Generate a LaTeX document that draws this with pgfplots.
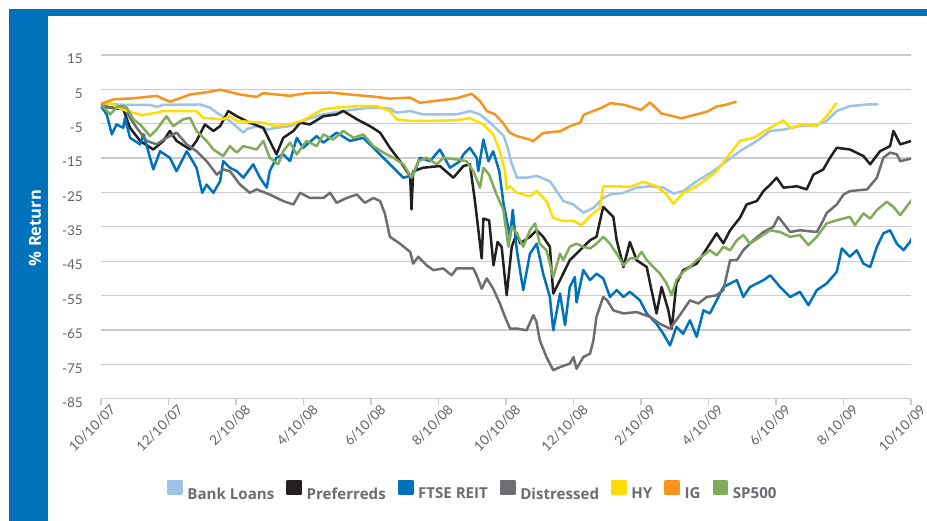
\documentclass[border=0pt]{standalone}
\usepackage{fontspec}
\setmainfont{Lato}
\newfontfamily\legfont{Open Sans}
\usepackage{pgfplots}
\pgfplotsset{compat=1.18}
\definecolor{frameblue}{RGB}{0,114,188}
\definecolor{cbank}{RGB}{157,195,230}
\definecolor{cpref}{RGB}{35,31,32}
\definecolor{creit}{RGB}{0,114,188}
\definecolor{cdist}{RGB}{109,110,113}
\definecolor{chy}{RGB}{255,221,0}
\definecolor{cig}{RGB}{247,148,29}
\definecolor{csp}{RGB}{130,171,90}
\definecolor{gridc}{RGB}{204,204,204}
\definecolor{tickc}{RGB}{100,100,100}
\definecolor{legc}{RGB}{109,110,113}
\begin{document}
\begin{tikzpicture}[x=1pt,y=1pt]
\useasboundingbox (0,0) rectangle (927,521);
\fill[white] (0,0) rectangle (927,521);
\fill[frameblue] (9,0) rectangle (48,512);
\fill[frameblue] (9,505) rectangle (927,512);
\node[rotate=90, text=white, font=\legfont\bfseries\fontsize{16.5}{20}\selectfont] at (35,293) {\% Return};
\begin{axis}[
  at={(101pt,122.3pt)}, anchor=south west,
  scale only axis, width=810pt, height=343.7pt,
  xmin=0, xmax=24, ymin=-85, ymax=15,
  xtick={0,2,...,24},
  xticklabels={10/10/07,12/10/07,2/10/08,4/10/08,6/10/08,8/10/08,10/10/08,12/10/08,2/10/09,4/10/09,6/10/09,8/10/09,10/10/09},
  ytick={-85,-75,...,15},
  ymajorgrids, grid style={gridc, line width=1.3pt},
  separate axis lines,
  axis x line*=bottom, axis y line*=left,
  y axis line style={draw=none},
  x axis line style={gridc, line width=1.3pt},
  xtick style={gridc, line width=1.3pt},
  ytick style={draw=none},
  major tick length=6pt, tick align=outside,
  /pgf/number format/assume math mode=true,
  ticklabel style={font=\fontsize{13.5}{16}\selectfont, text=tickc},
  yticklabel style={inner sep=0pt, anchor=east, xshift=-12pt, yshift=-4pt},
  xticklabel style={rotate=45, anchor=north east, inner sep=0pt, xshift=7pt, yshift=-5pt},
  no markers,
  every axis plot/.append style={line width=2.5pt, line join=round},
  legend columns=-1,
  legend image code/.code={\fill[#1] (0pt,0pt) rectangle (13.3pt,13.3pt);},
  legend style={at={(0.0777,-0.266)}, anchor=west, draw=none, fill=none,
    font=\legfont\bfseries\fontsize{15.1}{19}\selectfont, text=legc,
    nodes={inner sep=0pt},
    /tikz/every even column/.append style={column sep=12pt},
    /tikz/every odd column/.append style={column sep=4.5pt}},
]
\addplot[color=cbank] coordinates {(0,0.9) (0.66,0.5) (1.45,0.5) (1.65,-0.1) (1.85,0.5) (2.93,0.6) (3.23,-0.3) (3.43,-1.8) (3.82,-4.2) (4.22,-7.6) (4.32,-6.6) (4.61,-5.7) (4.91,-6.7) (5.2,-6.2) (5.6,-5.7) (6.09,-3.7) (6.59,-2.3) (7.18,-1.3) (7.97,-0.3) (8.56,-0.6) (8.76,-1.8) (9.16,-1.3) (9.55,-2.3) (10.54,-2.3) (10.93,-1.3) (11.23,-2.3) (11.53,-4.7) (11.93,-8.5) (12.05,-12) (12.15,-16) (12.32,-20.7) (12.6,-20.7) (12.91,-20.2) (13.3,-21.7) (13.5,-24.6) (13.7,-27.5) (14.0,-28.5) (14.29,-30.9) (14.59,-29.5) (14.88,-26.6) (15.08,-25.6) (15.48,-25.1) (15.87,-23.6) (16.27,-23.2) (16.66,-23.6) (16.96,-25.3) (17.25,-24.6) (17.65,-21.7) (18.14,-18.8) (18.6,-15.4) (18.93,-13) (19.43,-10) (19.83,-7.1) (20.22,-6.7) (20.71,-5.7) (21.21,-5.4) (21.5,-4.2) (21.8,-1.3) (22.19,0.1) (22.7,0.6) (23.03,0.6)};
\addlegendentry{Bank Loans}
\addplot[color=cpref] coordinates {(0,0.1) (0.27,-0.3) (0.66,-0.8) (0.86,-6.2) (1.16,-10) (1.55,-12.5) (1.85,-10) (2.04,-7.1) (2.24,-10) (2.64,-12.5) (2.83,-10) (3.08,-5.2) (3.33,-7.1) (3.53,-5.7) (3.77,-1.3) (4.02,-2.8) (4.41,-4.7) (4.81,-6.2) (5.0,-10) (5.2,-13.9) (5.4,-9.1) (5.7,-7.1) (5.9,-4.7) (6.19,-5.2) (6.59,-2.8) (6.98,-2.3) (7.18,-1.3) (7.58,-3.7) (7.97,-5.7) (8.27,-7.6) (8.56,-12) (8.86,-15.9) (9.16,-20.2) (9.2,-29.9) (9.25,-18.8) (9.55,-17.8) (10.04,-17.3) (10.44,-20.7) (10.74,-17.3) (10.93,-16.8) (11.08,-27.5) (11.28,-44.2) (11.33,-32.6) (11.5,-33.1) (11.63,-46.2) (11.75,-39.4) (11.87,-40.8) (12.02,-54.9) (12.17,-40.8) (12.32,-36.9) (12.42,-39.8) (12.71,-37.9) (12.91,-36) (13.1,-37.9) (13.3,-40.8) (13.4,-54.4) (13.6,-50.5) (13.89,-44.7) (14.19,-41.8) (14.49,-38.9) (14.68,-37.9) (14.88,-29.2) (15.18,-32.1) (15.28,-38.9) (15.48,-46.7) (15.67,-39.4) (15.87,-44.7) (16.17,-46.7) (16.27,-51.5) (16.46,-60.2) (16.61,-52.5) (16.81,-59.3) (16.91,-64.6) (17.05,-51.5) (17.25,-47.6) (17.65,-45.7) (17.85,-42.8) (18.24,-36.9) (18.44,-39.8) (18.64,-36) (18.93,-32.4) (19.13,-28.5) (19.43,-27.5) (19.63,-24.6) (19.83,-22.7) (20.02,-20.7) (20.22,-23.6) (20.62,-23.2) (20.91,-24.1) (21.11,-19.8) (21.4,-18.3) (21.6,-14.9) (21.8,-12) (22.19,-12.5) (22.59,-14.4) (22.79,-16.8) (23.08,-13) (23.38,-11.5) (23.48,-7.1) (23.68,-11) (24.02,-10)};
\addlegendentry{Preferreds}
\addplot[color=creit] coordinates {(0,0.1) (0.17,-2.3) (0.32,-8.1) (0.46,-5.2) (0.66,-6.2) (0.71,-3.3) (0.86,-9.1) (1.16,-11) (1.26,-8.1) (1.55,-18.3) (1.75,-13) (2.04,-14.9) (2.24,-18.8) (2.54,-13) (2.83,-17.8) (3.0,-25.1) (3.13,-22.7) (3.33,-25.1) (3.53,-21.7) (3.62,-15.9) (3.82,-17.8) (4.02,-18.8) (4.22,-20.7) (4.51,-16.8) (4.71,-20.7) (4.91,-23.6) (5.0,-18.8) (5.2,-14.9) (5.4,-13.9) (5.6,-15.9) (5.8,-9.1) (5.99,-12) (6.39,-8.6) (6.59,-10.5) (6.98,-7.6) (7.38,-10) (7.77,-9.1) (8.07,-12) (8.37,-14.9) (8.66,-17.8) (8.96,-20.7) (9.16,-20.2) (9.3,-18.8) (9.45,-14.9) (9.75,-15.9) (10.04,-12.5) (10.34,-17.8) (10.64,-15.9) (10.74,-13.9) (10.93,-12) (11.13,-14.9) (11.18,-18.8) (11.33,-9.6) (11.48,-15.9) (11.62,-13) (11.8,-18.8) (11.93,-28.5) (12.12,-37.9) (12.2,-30.1) (12.32,-41.8) (12.51,-53.4) (12.71,-42.8) (12.91,-39.9) (13.1,-48.6) (13.3,-55.4) (13.4,-65.1) (13.6,-54.4) (13.75,-63.6) (13.89,-52.5) (14.04,-49.6) (14.09,-57) (14.29,-47.6) (14.49,-50.5) (14.68,-48.6) (14.88,-50) (15.08,-55.4) (15.28,-53.4) (15.48,-55.4) (15.67,-53.9) (15.97,-56.4) (16.17,-60.2) (16.46,-63.2) (16.66,-66.1) (16.86,-69.5) (17.05,-64.1) (17.25,-66.1) (17.45,-62.2) (17.65,-67) (17.85,-59.3) (18.04,-60.2) (18.24,-56.4) (18.44,-52.5) (18.64,-51.5) (18.84,-50.5) (19.03,-55.4) (19.23,-52.5) (19.63,-50.5) (19.83,-49.1) (20.12,-52.5) (20.42,-55.4) (20.71,-53.9) (20.96,-57.8) (21.21,-53.4) (21.5,-51.5) (21.8,-48.1) (21.95,-41.3) (22.19,-43.7) (22.39,-41.8) (22.59,-45.7) (22.79,-46.7) (22.99,-40.8) (23.18,-36.9) (23.38,-36) (23.58,-39.9) (23.78,-41.8) (23.97,-39.4) (24.02,-38.4)};
\addlegendentry{FTSE REIT}
\addplot[color=cdist] coordinates {(0,0.6) (0.27,-0.3) (0.66,0.1) (0.86,-3.3) (1.06,-6.2) (1.35,-10) (1.65,-11) (1.94,-9.1) (2.24,-7.6) (2.54,-11) (2.83,-13) (3.13,-15.9) (3.43,-19.8) (3.62,-18.3) (3.82,-18.8) (4.12,-22.7) (4.41,-25.1) (4.61,-24.1) (5.0,-25.6) (5.4,-27.5) (5.7,-28.5) (5.9,-25.1) (6.19,-26.6) (6.59,-26.6) (6.79,-25.1) (6.98,-28) (7.28,-26.6) (7.58,-25.6) (7.82,-28) (8.07,-26.6) (8.27,-27.5) (8.41,-31.1) (8.56,-37.9) (8.86,-39.9) (9.16,-42.3) (9.25,-45.7) (9.4,-43.7) (9.65,-46.2) (9.85,-47.6) (10.14,-47.1) (10.39,-49.1) (10.54,-47.1) (11.03,-47.1) (11.13,-49.1) (11.28,-53) (11.43,-50) (11.62,-53) (11.82,-57.3) (11.97,-61.2) (12.12,-64.6) (12.32,-64.6) (12.61,-65.1) (12.81,-60.7) (12.9,-62.5) (13.0,-68) (13.2,-72.9) (13.4,-76.7) (13.6,-75.8) (13.89,-74.8) (14.0,-72.9) (14.09,-76.3) (14.29,-72.9) (14.49,-71.9) (14.59,-68) (14.68,-61.2) (14.88,-55.4) (15.0,-56.4) (15.18,-59.3) (15.48,-60.2) (15.87,-59.8) (16.27,-61.2) (16.56,-63.2) (16.86,-64.6) (17.15,-60.7) (17.45,-56.4) (17.7,-57.3) (17.95,-55.4) (18.24,-54.9) (18.44,-53.4) (18.64,-44.7) (18.84,-44.7) (19.03,-41.8) (19.33,-38.9) (19.63,-36.5) (19.92,-35) (20.07,-32.1) (20.22,-34) (20.42,-36.5) (20.71,-36) (21.21,-36.5) (21.4,-33.1) (21.5,-31) (21.8,-28.5) (22.0,-25.6) (22.19,-24.6) (22.7,-24.1) (22.99,-20.7) (23.18,-14.9) (23.38,-13.4) (23.58,-13.9) (23.68,-15.9) (24.02,-15.1)};
\addlegendentry{Distressed}
\addplot[color=chy] coordinates {(0,0.9) (0.3,0.9) (0.5,-0.4) (0.86,-1.5) (1.2,-2.5) (1.65,-1.8) (1.85,-1.3) (2.83,-1.3) (3.03,-3.3) (3.62,-3.7) (3.82,-2.8) (4.02,-4.2) (4.81,-4.7) (5.2,-5.7) (5.6,-5.2) (5.99,-4) (6.39,-1.8) (6.59,-0.8) (6.98,-0.3) (7.58,0.1) (8.17,0.1) (8.56,-1.3) (8.76,-3.7) (9.16,-4.2) (9.55,-4.2) (10.54,-4) (10.93,-3.4) (11.33,-5.2) (11.62,-8.1) (11.82,-13) (11.97,-18.8) (12.02,-24.1) (12.12,-23.2) (12.32,-25.1) (12.71,-26.1) (12.91,-24.6) (13.2,-27.5) (13.4,-32.4) (13.7,-33.3) (14.0,-33.3) (14.24,-34.5) (14.49,-31.9) (14.78,-29.5) (14.88,-23.2) (15.28,-23.2) (15.67,-23.4) (16.07,-21.9) (16.46,-23.2) (16.76,-25.6) (16.96,-28.3) (17.25,-25.1) (17.65,-23.2) (18.24,-18.8) (18.54,-14.9) (18.93,-10) (19.33,-9.1) (19.83,-6.2) (20.22,-4) (20.42,-6.2) (20.81,-5.2) (21.21,-5.7) (21.5,-2.8) (21.8,1.1)};
\addlegendentry{HY}
\addplot[color=cig] coordinates {(0,0.8) (0.37,2.1) (0.96,2.4) (1.65,3.1) (2.04,1.4) (2.64,3.5) (3.23,4.3) (3.53,4.9) (4.12,3.5) (4.61,2.8) (4.81,3.9) (5.6,3.1) (6.09,3.9) (6.79,4.1) (7.58,3.3) (8.07,2.9) (8.56,2.3) (9.16,2.6) (9.45,1.1) (10.04,1.8) (10.54,2.4) (10.98,3.7) (11.23,1.6) (11.43,-1.3) (11.68,-2.3) (11.93,-5) (12.1,-7.5) (12.32,-8.6) (12.7,-9.6) (12.8,-10.1) (13.1,-7.7) (13.6,-7.2) (13.9,-5.7) (14.2,-4.7) (14.3,-2.4) (14.8,-0.5) (15.1,1.0) (15.5,0.5) (16.0,-1.0) (16.27,1.2) (16.6,-2.0) (17.2,-3.4) (17.6,-2.4) (17.95,-1.5) (18.24,0) (18.5,0.5) (18.83,1.4)};
\addlegendentry{IG}
\addplot[color=csp] coordinates {(0,0.6) (0.27,-2.3) (0.5,0.1) (0.76,-0.3) (0.96,-3.7) (1.16,-5.2) (1.45,-8.6) (1.65,-6.7) (1.94,-2.8) (2.14,-5.7) (2.44,-3.7) (2.64,-3.3) (2.83,-7.1) (3.13,-10) (3.33,-12.5) (3.62,-14.4) (3.82,-11.5) (4.02,-13.4) (4.22,-11.5) (4.61,-12.5) (4.81,-10) (5.0,-14.9) (5.25,-16.8) (5.4,-13) (5.6,-10.5) (5.8,-13.9) (6.09,-10) (6.39,-11.5) (6.59,-8.1) (6.88,-9.6) (7.18,-7.1) (7.48,-9.1) (7.77,-8.1) (8.07,-11.5) (8.37,-13.4) (8.66,-14.9) (8.96,-16.8) (9.2,-20.7) (9.4,-15.9) (9.65,-14.9) (9.95,-16.8) (10.14,-14.9) (10.54,-15.4) (10.83,-15.9) (11.03,-18.8) (11.23,-23.6) (11.33,-17.8) (11.5,-19.8) (11.72,-25.6) (11.92,-30) (12.07,-40.8) (12.17,-35) (12.32,-36.9) (12.51,-40.8) (12.71,-36) (12.86,-34) (13.0,-39.9) (13.2,-41.8) (13.4,-49.6) (13.6,-42.8) (13.7,-44.7) (13.89,-40.8) (14.09,-39.9) (14.29,-40.8) (14.49,-41.3) (14.68,-39.9) (14.88,-37.9) (15.08,-39.9) (15.28,-42.8) (15.48,-46.2) (15.67,-44.2) (15.87,-44.2) (16.02,-42.3) (16.17,-44.7) (16.37,-46.7) (16.56,-48.6) (16.76,-51.5) (16.91,-54.9) (17.05,-50.5) (17.25,-48.1) (17.45,-46.7) (17.65,-44.7) (17.85,-43.3) (18.04,-41.8) (18.24,-43.3) (18.44,-40.8) (18.64,-41.8) (18.84,-38.9) (19.03,-37.4) (19.23,-39.9) (19.53,-37.9) (19.83,-36) (20.12,-36.5) (20.42,-37.9) (20.71,-37.4) (20.96,-40.3) (21.21,-37.9) (21.5,-34) (21.8,-33.1) (22.19,-32.1) (22.34,-34.5) (22.59,-31.1) (22.79,-32.6) (22.99,-30.1) (23.28,-27.7) (23.48,-29.2) (23.68,-31.6) (24.02,-27.2)};
\addlegendentry{SP500}
\end{axis}
\end{tikzpicture}
\end{document}
